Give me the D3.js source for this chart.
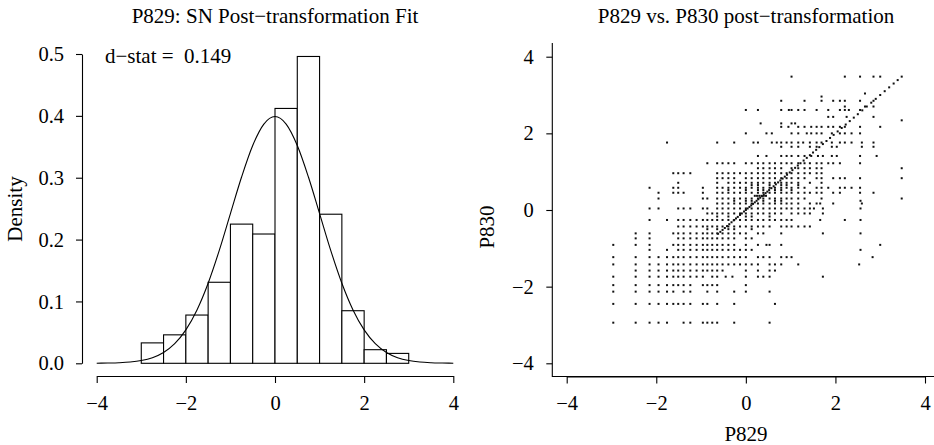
<!DOCTYPE html>
<meta charset="utf-8">
<script src="https://d3js.org/d3.v7.min.js"></script>
<style>
  body { margin: 0; background: #fff; }
  text { font-family: "Liberation Serif", "Times New Roman", serif; fill: #000; }
</style>
<div id="chart"></div>
<script>

// ---- left panel: histogram of P829 after transformation ----
var binStarts = [-3, -2.5, -2, -1.5, -1, -0.5, 0, 0.5, 1, 1.5, 2, 2.5];
var binDensity = [0.033, 0.046, 0.078, 0.131, 0.225, 0.209, 0.412, 0.496, 0.241, 0.085, 0.022, 0.016];
var binWidth = 0.5;

// fitted standard normal curve, read at steps of 0.25
var curveX = [-4, -3.75, -3.5, -3.25, -3, -2.75, -2.5, -2.25, -2, -1.75, -1.5, -1.25, -1, -0.75, -0.5, -0.25, 0,
              0.25, 0.5, 0.75, 1, 1.25, 1.5, 1.75, 2, 2.25, 2.5, 2.75, 3, 3.25, 3.5, 3.75, 4];
var curveY = [0.0001, 0.0004, 0.0009, 0.0020, 0.0044, 0.0091, 0.0175, 0.0317, 0.0540, 0.0863, 0.1295, 0.1826, 0.2420, 0.3011, 0.3521, 0.3867, 0.3989,
              0.3867, 0.3521, 0.3011, 0.2420, 0.1826, 0.1295, 0.0863, 0.0540, 0.0317, 0.0175, 0.0091, 0.0044, 0.0020, 0.0009, 0.0004, 0.0001];

var dStat = "0.149";
var histXTicks = [-4, -2, 0, 2, 4];
var histYTicks = [0, 0.1, 0.2, 0.3, 0.4, 0.5];

// ---- right panel: P829 vs P830 scatter ----
// one entry per P830 level, with the P829 values seen on that row
var p830Rows = [3.48, 3.04, 2.96, 2.85, 2.70, 2.61, 2.43, 2.34, 2.26, 2.17, 2.0, 1.76, 1.65, 1.41, 1.22, 1.09, 0.96, 0.83, 0.71, 0.65,
                0.58, 0.52, 0.45, 0.37, 0.30, 0.24, 0.17, 0.04, -0.09, -0.17, -0.26, -0.43, -0.50, -0.61, -0.74, -0.91, -1.04, -1.23,
                -1.42, -1.58, -1.74, -1.96, -2.13, -2.45, -2.94];
var p829Rows = [
  [1.02, 2.21, 2.55, 2.85, 3.00],
  [2.66],
  [1.69],
  [0.79, 1.31, 1.69, 1.95, 2.10, 2.21, 2.55, 2.85],
  [2.21, 2.66, 2.85],
  [0.0, 0.27, 0.79, 0.96, 1.02, 1.17, 1.31, 1.58, 1.84, 2.10, 2.21, 2.30, 2.55],
  [1.84, 1.95, 2.25, 2.85],
  [3.48],
  [0.33, 0.79, 1.02, 1.10],
  [0.79, 0.95, 1.17, 1.31, 1.46, 1.58, 1.69, 1.84, 1.95, 2.10, 2.21, 2.55, 3.00],
  [0.00, 0.46, 0.58, 1.02, 1.17, 1.36, 1.46, 1.58, 1.69, 1.92, 2.10, 2.21, 2.36, 2.55],
  [-1.76, -0.64, -0.26, 0.17, 0.27, 0.58, 0.69, 0.79, 0.91, 1.02, 1.17, 1.28, 1.43, 1.58, 1.69, 1.92, 2.10, 2.21, 2.36, 2.59, 2.85],
  [0.79, 1.02, 1.17, 1.43, 1.58, 1.92, 2.03, 2.59, 2.85],
  [0.27, 0.46, 0.79, 0.91, 1.02, 1.17, 1.31, 1.46, 1.61, 1.72, 1.92, 2.03, 2.55, 2.92],
  [-0.86, -0.64, -0.52, -0.39, -0.26, 0.0, 0.13, 0.27, 0.39, 0.53, 0.65, 0.79, 0.91, 1.02, 1.17, 1.31, 1.43, 1.58, 1.69, 1.84, 1.95, 2.10, 2.55],
  [0.27, 0.39, 0.53, 0.65, 0.79, 1.02, 1.17, 1.31, 1.43, 1.58, 1.69, 3.48],
  [-1.62, -1.51, -1.39, -1.24, -0.64, -0.52, -0.39, -0.26, -0.13, 0.0, 0.13, 0.27, 0.39, 0.53, 0.65, 0.79, 0.91, 1.02, 1.17, 1.31, 1.43, 1.58, 1.69],
  [-0.64, -0.52, -0.39, -0.26, 0.0, 0.13, 0.27, 0.39, 0.53, 0.65, 0.79, 0.91, 1.02, 1.17, 1.31, 1.58, 1.69, 1.95, 2.10, 2.21, 2.55, 3.48],
  [-1.51, -0.64, -0.39, -0.26, -0.13, 0.0, 0.13, 0.27, 0.39, 0.53, 0.65, 0.79, 0.91, 1.02, 1.17, 1.43, 1.69],
  [0.13, 0.27, 0.53, 0.79, 0.91, 1.17],
  [-2.15, -1.62, -1.51, -0.96, -0.64, -0.52, -0.39, -0.26, -0.13, 0.0, 0.13, 0.27, 0.39, 0.53, 0.65, 0.79, 0.91, 1.02, 1.17, 1.31, 1.58, 1.69, 1.84, 2.10, 2.21, 2.36, 2.55],
  [-0.39, 0.0, 0.27, 0.39, 0.65, 0.79, 1.02],
  [-1.95, -1.62, -1.51, -1.39, -0.96, -0.64, -0.52, -0.39, -0.26, -0.13, 0.0, 0.13, 0.27, 0.39, 0.53, 0.65, 0.79, 0.91, 1.02, 1.17, 1.31, 1.43, 1.58, 1.69, 1.95, 2.10, 2.55, 2.85],
  [0.20, 0.25, 0.30, 0.35, 0.40, 0.45],
  [-1.95, -0.96, -0.86, -0.64, -0.52, -0.39, -0.26, -0.13, 0.0, 0.13, 0.27, 0.39, 0.53, 0.65, 0.79, 0.91, 1.02, 1.17, 1.31, 1.69, 3.48],
  [-0.26, 0.0, 0.13, 0.39, 0.65, 0.79, 2.56],
  [-0.64, -0.52, -0.39, -0.26, -0.13, 0.0, 0.13, 0.27, 0.39, 0.53, 0.65, 0.79, 0.91, 1.02, 1.17, 1.43, 1.58, 1.66, 1.95, 2.59],
  [-2.15, -1.95, -1.51, -1.39, -1.24, -0.96, -0.86, -0.64, -0.52, -0.39, -0.26, -0.13, 0.0, 0.13, 0.27, 0.39, 0.53, 0.65, 0.79, 0.91, 1.02, 1.17, 1.31, 1.43, 1.52, 1.72, 2.56],
  [-0.86, -0.75, -0.64, -0.52, -0.39, -0.26, -0.13, 0.0, 0.13, 0.27, 0.39, 0.53, 0.65, 0.79, 1.02, 1.17, 1.31, 1.43, 1.72],
  [-0.64, -0.39, 0.0, 0.13, 0.53],
  [-2.15, -1.76, -1.51, -1.39, -1.24, -1.10, -0.96, -0.86, -0.75, -0.64, -0.52, -0.39, -0.26, -0.13, 0.0, 0.13, 0.27, 0.39, 0.53, 0.65, 0.79, 0.91, 1.02, 1.66, 2.21, 2.56],
  [-1.51, -1.39, -1.24, -1.10, -0.96, -0.86, -0.75, -0.64, -0.52, -0.39, -0.26, -0.13, 0.0, 0.13, 0.27, 0.39, 0.53, 0.79, 0.91, 1.02, 1.17, 1.31, 1.43],
  [-0.86, -0.64, -0.39, -0.26, 0.13],
  [-2.46, -2.15, -1.62, -1.51, -1.39, -1.24, -1.10, -0.96, -0.86, -0.75, -0.64, -0.52, -0.39, -0.26, -0.13, 0.0, 0.27, 0.39, 0.79, 1.72, 2.56],
  [-2.46, -2.15, -1.51, -1.39, -1.24, -1.10, -0.96, -0.86, -0.75, -0.64, -0.52, -0.39, -0.26, 0.0, 0.13],
  [-2.96, -2.46, -2.15, -1.62, -1.51, -1.39, -1.24, -1.10, -0.96, -0.86, -0.75, -0.64, -0.52, -0.39, -0.26, 0.0, 0.27, 0.46, 0.53, 0.79, 3.00],
  [-2.15, -1.76, -1.51, -1.39, -1.24, -1.10, -0.96, -0.86, -0.75, -0.64, -0.52, -0.39, -0.26, -0.13, 0.0, 0.13, 2.56],
  [-2.96, -2.46, -2.15, -1.95, -1.76, -1.62, -1.51, -1.39, -1.24, -1.10, -0.96, -0.86, -0.75, -0.64, -0.52, -0.39, -0.26, -0.13, 0.0, 0.27, 0.39, 0.53, 0.79, 0.91, 1.02, 2.83],
  [-2.96, -2.46, -2.15, -1.95, -1.76, -1.62, -1.51, -1.39, -1.24, -1.10, -0.96, -0.86, -0.75, -0.64, -0.52, -0.39, -0.26, -0.13, 0.0, 0.13, 0.27, 0.53, 0.65, 0.79, 1.17, 2.53],
  [-2.46, -2.15, -1.95, -1.76, -1.62, -1.51, -1.39, -1.24, -1.10, -0.96, -0.86, -0.75, -0.64, -0.52, 0.0, 0.27, 0.53, 0.65],
  [-2.96, -2.46, -2.15, -1.95, -1.76, -1.62, -1.51, -1.39, -1.24, -1.10, -0.96, -0.75, -0.64, -0.45, -0.30, 0.0, 0.27, 0.39, 0.53, 1.72],
  [-2.96, -2.46, -2.15, -1.95, -1.76, -1.62, -1.51, -1.39, -1.24, -0.96, -0.86, -0.75, -0.64, 0.0],
  [-2.96, -2.46, -2.15, -1.95, -1.76, -1.62, -1.39, -1.24, -0.86, -0.64, -0.26, 0.0, 0.53],
  [-2.96, -2.46, -2.15, -1.95, -1.76, -1.62, -1.51, -1.39, -1.24, -0.96, -0.86, -0.64, -0.26, 0.65],
  [-2.96, -2.46, -2.15, -1.95, -1.76, -1.39, -1.24, -0.96, -0.86, -0.75, -0.64, -0.26, 0.53]
];
// cases where P829 equals P830 (the dotted diagonal)
var diagonal = [-0.62, -0.57, -0.52, -0.47, -0.42, -0.37, -0.32, -0.27, -0.22, -0.18, -0.13, -0.09, -0.04, 0.0, 0.04, 0.08,
                0.12, 0.16, 0.2, 0.24, 0.28, 0.32, 0.36, 0.4, 0.44, 0.48, 0.52, 0.57, 0.62, 0.67, 0.72, 0.77, 0.82, 0.87,
                0.92, 0.98, 1.04, 1.1, 1.16, 1.22, 1.29, 1.36, 1.43, 1.5, 1.57, 1.64, 1.72, 1.8, 1.88, 1.96, 2.05, 2.14,
                2.23, 2.32, 2.41, 2.5, 2.6, 2.7, 2.8, 2.9, 3.0, 3.1, 3.2, 3.3, 3.39, 3.48];
var scatTicks = [-4, -2, 0, 2, 4];

var width = 934, height = 445;
var svg = d3.select("#chart").append("svg")
    .attr("width", width)
    .attr("height", height);

var fmtMinus = function(d) { return d < 0 ? "\u2212" + Math.abs(d) : String(d); };
var fontSize = 21;     // titles and labels
var tickFont = 20.5;   // axis numbers

// ================= left panel =================
var xL = d3.scaleLinear().domain([-4, 4]).range([96.7, 453.3]);
var yL = d3.scaleLinear().domain([0, 0.5]).range([363.3, 54]);

var left = svg.append("g");

left.selectAll(".bar")
  .data(binStarts)
  .enter()
  .append("rect")
    .attr("x", function(d) { return xL(d); })
    .attr("y", function(d, i) { return yL(binDensity[i]); })
    .attr("width", function(d) { return xL(d + binWidth) - xL(d); })
    .attr("height", function(d, i) { return yL(0) - yL(binDensity[i]); })
    .attr("fill", "#fff")
    .attr("stroke", "#000")
    .attr("stroke-width", 1.1);

var normLine = d3.line()
  .x(function(d, i) { return xL(curveX[i]); })
  .y(function(d) { return yL(d); })
  .curve(d3.curveMonotoneX);

left.append("path")
  .attr("d", normLine(curveY))
  .attr("fill", "none")
  .attr("stroke", "#000")
  .attr("stroke-width", 1.1);

var axL = left.append("g")
  .attr("transform", "translate(82,0)")
  .call(d3.axisLeft(yL).tickValues(histYTicks).tickFormat(d3.format(".1f")).tickSize(6).tickSizeOuter(0).tickPadding(12));

var axB = left.append("g")
  .attr("transform", "translate(0,376)")
  .call(d3.axisBottom(xL).tickValues(histXTicks).tickFormat(fmtMinus).tickSize(7).tickSizeOuter(0).tickPadding(12));

left.append("text")
  .attr("x", 275)
  .attr("y", 23)
  .attr("text-anchor", "middle")
  .style("font-size", fontSize + "px")
  .text("P829: SN Post\u2212transformation Fit");

left.append("text")
  .attr("transform", "translate(22,209) rotate(-90)")
  .attr("text-anchor", "middle")
  .style("font-size", fontSize + "px")
  .text("Density");

left.append("text")
  .attr("x", 105)
  .attr("y", 63)
  .style("font-size", fontSize + "px")
  .style("white-space", "pre")
  .text("d\u2212stat =  " + dStat);

// ================= right panel =================
var xR = d3.scaleLinear().domain([-4, 4]).range([566.7, 925]);
var yR = d3.scaleLinear().domain([-4, 4]).range([363.3, 56.7]);

var right = svg.append("g");

var pts = [];
p830Rows.forEach(function(yv, i) {
  p829Rows[i].forEach(function(xv) { pts.push([xv, yv]); });
});
diagonal.forEach(function(v) { pts.push([v, v]); });

right.selectAll(".pt")
  .data(pts)
  .enter()
  .append("rect")
    .attr("x", function(d) { return xR(d[0]) - 1; })
    .attr("y", function(d) { return yR(d[1]) - 1; })
    .attr("width", 2)
    .attr("height", 2)
    .attr("fill", "#111");

// L-shaped box
right.append("path")
  .attr("d", "M552.3,43V376.5H934")
  .attr("fill", "none")
  .attr("stroke", "#000")
  .attr("stroke-width", 1.1);

var axRL = right.append("g")
  .attr("transform", "translate(552.3,0)")
  .call(d3.axisLeft(yR).tickValues(scatTicks).tickFormat(fmtMinus).tickSize(6).tickSizeOuter(0).tickPadding(12.5));
axRL.select(".domain").remove();

var axRB = right.append("g")
  .attr("transform", "translate(0,376.5)")
  .call(d3.axisBottom(xR).tickValues(scatTicks).tickFormat(fmtMinus).tickSize(7).tickSizeOuter(0).tickPadding(12));

right.append("text")
  .attr("x", 746)
  .attr("y", 23)
  .attr("text-anchor", "middle")
  .style("font-size", fontSize + "px")
  .text("P829 vs. P830 post\u2212transformation");

right.append("text")
  .attr("x", 746)
  .attr("y", 441)
  .attr("text-anchor", "middle")
  .style("font-size", fontSize + "px")
  .text("P829");

right.append("text")
  .attr("transform", "translate(494,227) rotate(-90)")
  .attr("text-anchor", "middle")
  .style("font-size", fontSize + "px")
  .text("P830");

// axis styling to match the plain R look
svg.selectAll(".tick text")
  .style("font-family", "'Liberation Serif', serif")
  .style("font-size", tickFont + "px")
  .attr("fill", "#000");
svg.selectAll(".domain, .tick line")
  .attr("stroke", "#000")
  .attr("stroke-width", 1.1);

</script>
